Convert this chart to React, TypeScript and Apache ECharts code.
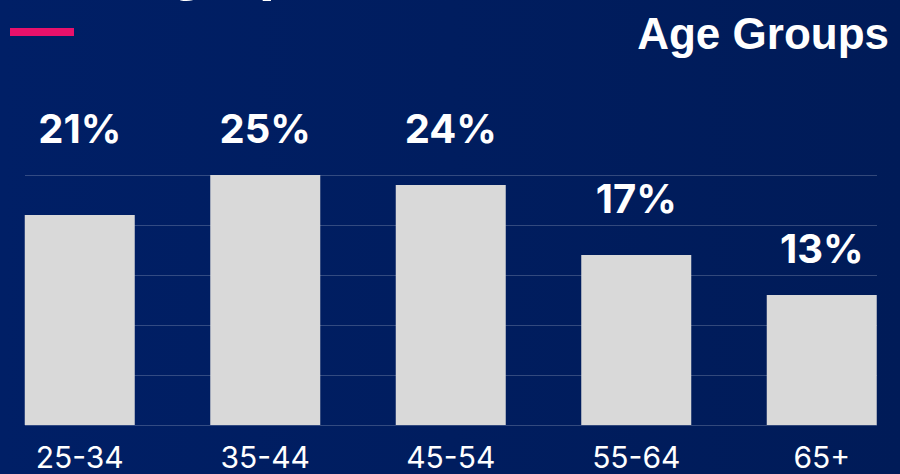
import React, { useEffect, useRef } from "react";
import * as echarts from "echarts";

const categories = ["25-34", "35-44", "45-54", "55-64", "65+"];
const shares = [21, 25, 24, 17, 13];
const yTicks = [0, 5, 10, 15, 20, 25];
const titleText = "Demographics";
const subtitleText = "Age Groups";
// extra lift of each value label above its bar (px)
const labelLift = [67, 27, 37, 37, 27];

export default function App() {
  const ref = useRef<HTMLDivElement>(null);
  useEffect(() => {
    if (!ref.current) return;
    const chart = echarts.init(ref.current, null, { renderer: "svg" });
    const yMin = yTicks[0];
    const yMax = yTicks[yTicks.length - 1];
    const step = yTicks[1] - yTicks[0];
    chart.setOption({
      animation: false,
      backgroundColor: {
        type: "linear",
        x: 0,
        y: 0,
        x2: 1,
        y2: 0,
        colorStops: [
          { offset: 0, color: "#001f66" },
          { offset: 1, color: "#001b58" },
        ],
      },
      grid: [
        { left: 25, right: 23, top: 175, bottom: 49, outerBoundsMode: "none" },
        { left: -13, right: -14.5, top: 175, bottom: 49, outerBoundsMode: "none" },
      ],
      xAxis: [
        { type: "value", gridIndex: 0, show: false, min: 0, max: 1 },
        {
          type: "category",
          gridIndex: 1,
          data: categories,
          axisLine: { show: false },
          axisTick: { show: false },
          axisLabel: {
            color: "#ffffff",
            fontFamily: "Inter",
            fontSize: 30,
            margin: 17,
          },
        },
      ],
      yAxis: [
        {
          type: "value",
          gridIndex: 0,
          min: yMin,
          max: yMax,
          interval: step,
          axisLabel: { show: false },
          axisLine: { show: false },
          axisTick: { show: false },
          splitLine: { lineStyle: { color: "rgba(255,255,255,0.2)", width: 1 } },
        },
        {
          type: "value",
          gridIndex: 1,
          min: yMin,
          max: yMax,
          interval: step,
          show: false,
          splitLine: { show: false },
        },
      ],
      series: [
        {
          type: "bar",
          xAxisIndex: 1,
          yAxisIndex: 1,
          barWidth: 110,
          itemStyle: { color: "#d9d9d9" },
          data: shares.map((v, i) => ({
            value: v,
            label: { distance: labelLift[i] },
          })),
          label: {
            show: true,
            position: "top",
            formatter: "{c}%",
            color: "#ffffff",
            fontFamily: "Inter",
            fontWeight: "bold",
            fontSize: 40,
          },
        },
      ],
      graphic: [
        {
          type: "text",
          left: 10,
          top: -59,
          style: {
            text: titleText,
            fill: "#ffffff",
            font: "bold 56px Inter",
          },
        },
        {
          type: "rect",
          shape: { x: 10, y: 28, width: 64, height: 8 },
          style: { fill: "#e8116b" },
        },
        {
          type: "text",
          right: 11,
          top: 11,
          style: {
            text: subtitleText,
            fill: "#ffffff",
            font: "bold 44px 'Liberation Sans'",
          },
        },
      ],
    });
    return () => chart.dispose();
  }, []);
  return (
    <div
      ref={ref}
      style={{ position: "fixed", left: 0, top: 0, width: 900, height: 474 }}
    />
  );
}
